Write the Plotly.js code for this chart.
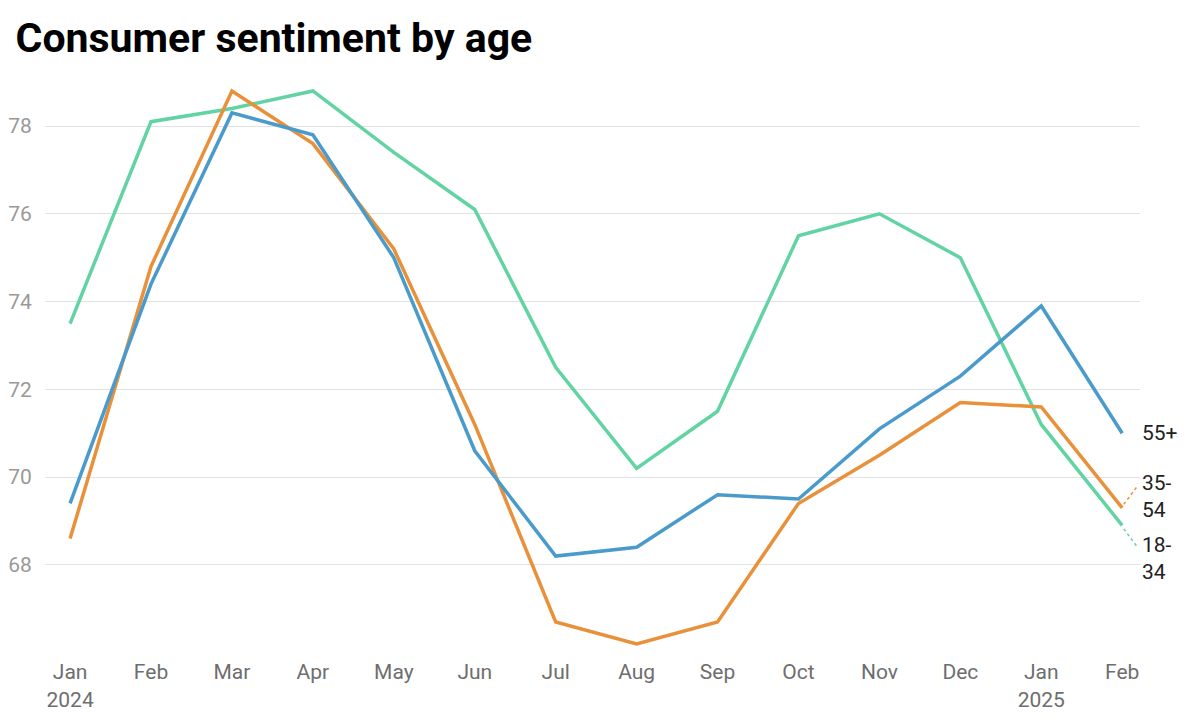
<!DOCTYPE html>
<html>
<head>
<meta charset="utf-8">
<script src="https://cdn.plot.ly/plotly-3.0.1.min.js"></script>
<style>
  body { margin: 0; background: #fff; }
  #chart { width: 1200px; height: 722px; }
</style>
</head>
<body>
<div id="chart"></div>
<script>
// monthly readings, Jan 2024 - Feb 2025
const months = ['Jan<br>2024', 'Feb', 'Mar', 'Apr', 'May', 'Jun', 'Jul', 'Aug',
                'Sep', 'Oct', 'Nov', 'Dec', 'Jan<br>2025', 'Feb'];

const age18to34 = [73.5, 78.1, 78.4, 78.8, 77.4, 76.1, 72.5, 70.2, 71.5, 75.5, 76.0, 75.0, 71.2, 68.9];
const age35to54 = [68.6, 74.8, 78.8, 77.6, 75.2, 71.2, 66.7, 66.2, 66.7, 69.4, 70.5, 71.7, 71.6, 69.3];
const age55plus = [69.4, 74.4, 78.3, 77.8, 75.0, 70.6, 68.2, 68.4, 69.6, 69.5, 71.1, 72.3, 73.9, 71.0];

const seriesNames = ['18-34', '35-54', '55+'];
const labelText = ['18-<br>34', '35-<br>54', '55+'];
// where the end labels sit (y value), nudged apart so they don't overlap
const labelY = [68.15, 69.55, 71.0];

const colors = ['#62d3a2', '#e8913a', '#4a9bcb'];

const xIdx = months.map((m, i) => i);
const allSeries = [age18to34, age35to54, age55plus];

const data = allSeries.map((vals, k) => ({
    x: xIdx,
    y: vals,
    name: seriesNames[k],
    type: 'scatter',
    mode: 'lines',
    line: { color: colors[k], width: 3.5 },
    hoverinfo: 'x+y+name',
}));

const last = xIdx.length - 1;

// end-of-line labels
const annotations = labelText.map((t, k) => ({
    x: last,
    y: labelY[k],
    xref: 'x',
    yref: 'y',
    text: t,
    showarrow: false,
    xanchor: 'left',
    align: 'left',
    xshift: 18,
    font: { family: 'Roboto', size: 21, color: '#222' },
}));

// dotted leaders for the labels that had to move
const shapes = [0, 1].map(k => {
    const endY = allSeries[k][last];
    const dir = labelY[k] > endY ? 1 : -1;
    return {
        type: 'line',
        xref: 'x',
        yref: 'y',
        x0: last + 0.02,
        y0: endY + dir * 0.08,
        x1: last + 0.19,
        y1: endY + dir * 0.5,
        line: { color: colors[k], width: 1.5, dash: 'dot' },
    };
});

const layout = {
    width: 1200,
    height: 722,
    margin: { l: 45, r: 60, t: 80, b: 72 },
    paper_bgcolor: '#fff',
    plot_bgcolor: '#fff',
    showlegend: false,
    title: {
        text: 'Consumer sentiment by age',
        font: { family: 'Roboto', size: 41, color: '#000', weight: 'bold' },
        xref: 'container',
        yref: 'container',
        x: 0.013,
        xanchor: 'left',
        y: 0.948,
        yanchor: 'middle',
    },
    xaxis: {
        range: [-0.31, 13.22],
        tickvals: xIdx,
        ticktext: months,
        showgrid: false,
        zeroline: false,
        showline: false,
        ticks: 'outside',
        ticklen: 3,
        tickcolor: 'rgba(0,0,0,0)',
        tickfont: { family: 'Roboto', size: 21, color: '#6e6e6e' },
        fixedrange: true,
    },
    yaxis: {
        range: [66.06, 79.05],
        tickvals: [68, 70, 72, 74, 76, 78],
        showgrid: true,
        gridcolor: '#e2e2e2',
        gridwidth: 1,
        zeroline: false,
        showline: false,
        ticks: 'outside',
        ticklen: 8,
        tickcolor: 'rgba(0,0,0,0)',
        tickfont: { family: 'Roboto', size: 21, color: '#999' },
        fixedrange: true,
    },
    annotations: annotations,
    shapes: shapes,
};

Plotly.newPlot('chart', data, layout, { displayModeBar: false, responsive: false });
</script>
</body>
</html>
